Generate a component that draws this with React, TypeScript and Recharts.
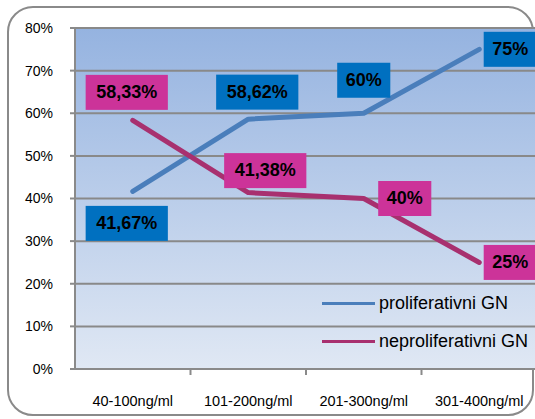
import { CartesianGrid, LabelList, Line, LineChart, XAxis, YAxis } from "recharts"

const RANGES = ["40-100ng/ml", "101-200ng/ml", "201-300ng/ml", "301-400ng/ml"]
const PROLIFERATIVE = [41.67, 58.62, 60, 75]
const NON_PROLIFERATIVE = [58.33, 41.38, 40, 25]
const Y_TICKS = [0, 10, 20, 30, 40, 50, 60, 70, 80]

const SERIES = [
  { key: "pro", name: "proliferativni GN", line: "#4A7EBB", box: "#0070C0" },
  { key: "nepro", name: "neproliferativni GN", line: "#A8306F", box: "#CC3399" },
]

// where each value box sits relative to its point
const PRO_PLACEMENT = [
  { dx: -6, dy: 32 },
  { dx: 9, dy: -27 },
  { dx: 0, dy: -33 },
  { dx: 31, dy: 0 },
]
const NEPRO_PLACEMENT = [
  { dx: -6, dy: -28 },
  { dx: 17, dy: -22 },
  { dx: 41, dy: 0 },
  { dx: 31, dy: 0 },
]

const FONT = '"Liberation Sans", Arial, sans-serif'

const data = RANGES.map((range, i) => ({
  range,
  pro: PROLIFERATIVE[i],
  nepro: NON_PROLIFERATIVE[i],
}))

const formatPct = (v: number) => `${String(v).replace(".", ",")}%`

function makeValueBox(fill: string, placement: { dx: number; dy: number }[]) {
  return (props: any) => {
    const { x, y, value, index } = props
    const text = formatPct(value)
    const w = 24 + text.length * 9.7
    const h = 35
    const cx = x + placement[index].dx
    const cy = y + placement[index].dy
    return (
      <g>
        <rect x={cx - w / 2} y={cy - h / 2} width={w} height={h} fill={fill} />
        <text
          x={cx}
          y={cy + 1}
          textAnchor="middle"
          dominantBaseline="middle"
          fontFamily={FONT}
          fontWeight="bold"
          fontSize={18}
          fill="#000"
        >
          {text}
        </text>
      </g>
    )
  }
}

// category label at the band centre, tick mark on the band's right edge
function RangeTick(props: any) {
  const { x, y, payload, width, visibleTicksCount } = props
  const band = width / visibleTicksCount
  return (
    <g>
      <line x1={x + band / 2} x2={x + band / 2} y1={y - 8} y2={y - 2} stroke="#8a8a8a" strokeWidth={2} />
      <text x={x} y={y + 29} textAnchor="middle" fontFamily={FONT} fontSize={14.5} fill="#000">
        {payload.value}
      </text>
    </g>
  )
}

function LegendBox() {
  return (
    <div style={{ position: "absolute", left: 322, top: 284, fontFamily: FONT, fontSize: 18, color: "#000" }}>
      {SERIES.map((s) => (
        <div key={s.key} style={{ display: "flex", alignItems: "center", height: 38, whiteSpace: "nowrap" }}>
          <div style={{ width: 53, height: 3, background: s.line, marginRight: 4 }} />
          <span>{s.name}</span>
        </div>
      ))}
    </div>
  )
}

export default function App() {
  return (
    <div style={{ position: "absolute", left: 0, top: 0, width: 535, height: 419, overflow: "hidden", background: "#fff" }}>
      <div
        style={{
          position: "absolute",
          left: 7,
          top: 6,
          width: 523,
          height: 406,
          border: "2px solid #8a8a8a",
          borderRadius: 26,
        }}
      />
      <div style={{ position: "absolute", left: 0, top: 0 }}>
        <LineChart
          width={540}
          height={419}
          data={data}
          margin={{ top: 28, right: 3, bottom: 0, left: 0 }}
        >
          <defs>
            <linearGradient id="plotBg" x1="0" y1="0" x2="0" y2="1">
              <stop offset="0%" stopColor="#95B3E0" />
              <stop offset="100%" stopColor="#E0E8F4" />
            </linearGradient>
          </defs>
          <CartesianGrid vertical={false} stroke="#898989" strokeWidth={2} fill="url(#plotBg)" fillOpacity={1} />
          <XAxis
            dataKey="range"
            scale="band"
            height={50}
            axisLine={{ stroke: "#8a8a8a", strokeWidth: 2 }}
            tickLine={false}
            tick={<RangeTick />}
            interval={0}
          />
          <YAxis
            width={75}
            domain={[0, 80]}
            ticks={Y_TICKS}
            interval={0}
            axisLine={{ stroke: "#8a8a8a", strokeWidth: 2 }}
            tickLine={{ stroke: "#8a8a8a", strokeWidth: 2 }}
            tickSize={5}
            tickMargin={17}
            tickFormatter={(v) => `${v}%`}
            tick={{ fontFamily: FONT, fontSize: 14, fill: "#000" }}
          />
          <Line
            dataKey="pro"
            name={SERIES[0].name}
            stroke={SERIES[0].line}
            strokeWidth={5}
            strokeLinecap="round"
            strokeLinejoin="round"
            dot={false}
            isAnimationActive={false}
          >
            <LabelList dataKey="pro" content={makeValueBox(SERIES[0].box, PRO_PLACEMENT)} />
          </Line>
          <Line
            dataKey="nepro"
            name={SERIES[1].name}
            stroke={SERIES[1].line}
            strokeWidth={5}
            strokeLinecap="round"
            strokeLinejoin="round"
            dot={false}
            isAnimationActive={false}
          >
            <LabelList dataKey="nepro" content={makeValueBox(SERIES[1].box, NEPRO_PLACEMENT)} />
          </Line>
        </LineChart>
      </div>
      <LegendBox />
    </div>
  )
}
